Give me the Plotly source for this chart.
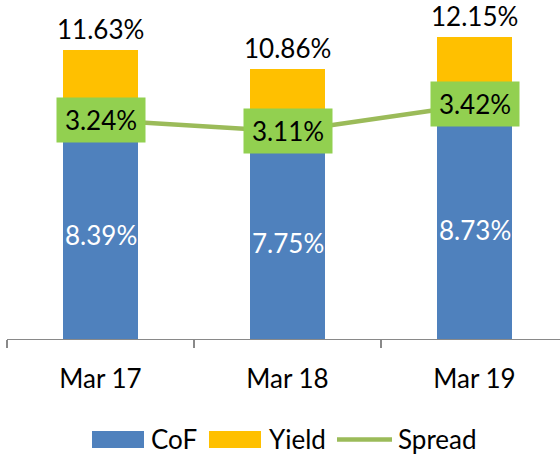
import plotly.graph_objects as go

categories = ["Mar 17", "Mar 18", "Mar 19"]
cof = [8.39, 7.75, 8.73]
yield_total = [11.63, 10.86, 12.15]
spread = [3.24, 3.11, 3.42]

BLUE = "#4F81BD"
ORANGE = "#FFC000"
LINE_GREEN = "#9BBB59"
BOX_GREEN = "#92D050"
FONT = "Lato"
FS = 26

W, H = 560, 454
PL, PR, PT, PB = 7, 560, 0, 339  # plot area in pixels


def px(x):
    return (x - PL) / (PR - PL)


def py(y):
    return (PB - y) / (PB - PT)


yield_part = [round(t - c, 2) for t, c in zip(yield_total, cof)]

fig = go.Figure()
fig.add_trace(go.Bar(
    x=categories, y=cof, name="CoF", marker=dict(color=BLUE, line=dict(width=0)),
    showlegend=False, hoverinfo="skip",
))
fig.add_trace(go.Bar(
    x=categories, y=yield_part, name="Yield", marker=dict(color=ORANGE, line=dict(width=0)),
    showlegend=False, hoverinfo="skip",
))
fig.add_trace(go.Scatter(
    x=categories, y=spread, name="Spread", mode="lines", yaxis="y2",
    line=dict(color=LINE_GREEN, width=4.5), showlegend=False, hoverinfo="skip",
))

annotations = []
for c, v in zip(categories, cof):
    annotations.append(dict(x=c, y=v / 2, xref="x", yref="y", text=f"{v:.2f}%",
                            showarrow=False, yanchor="middle",
                            font=dict(size=FS, family=FONT, color="white")))
for c, t in zip(categories, yield_total):
    annotations.append(dict(x=c, y=t, xref="x", yref="y", text=f"{t:.2f}%",
                            showarrow=False, yanchor="bottom", yshift=3,
                            font=dict(size=FS, family=FONT, color="black")))
for c, s in zip(categories, spread):
    annotations.append(dict(x=c, y=s, xref="x", yref="y2", text=f"{s:.2f}%",
                            showarrow=False, bgcolor=BOX_GREEN, borderpad=0,
                            width=88, height=44,
                            font=dict(size=FS, family=FONT, color="black")))

# legend (custom)
shapes = []
leg_y = 439.5
legend_items = [
    ("CoF", "rect", BLUE, 92, 144, 149),
    ("Yield", "rect", ORANGE, 209, 261, 267),
    ("Spread", "line", LINE_GREEN, 337, 392, 396),
]
for name, kind, col, x0, x1, tx in legend_items:
    if kind == "rect":
        shapes.append(dict(type="rect", xref="paper", yref="paper",
                           x0=px(x0), x1=px(x1), y0=py(leg_y + 8.5), y1=py(leg_y - 8.5),
                           fillcolor=col, line=dict(width=0)))
    else:
        shapes.append(dict(type="line", xref="paper", yref="paper",
                           x0=px(x0), x1=px(x1), y0=py(leg_y), y1=py(leg_y),
                           line=dict(color=col, width=4.5)))
    annotations.append(dict(x=px(tx), y=py(leg_y), xref="paper", yref="paper",
                            text=name, showarrow=False, xanchor="left", yanchor="middle",
                            font=dict(size=FS, family=FONT, color="black")))

y_scale = 24.86  # px per unit on primary
y2_a, y2_b = 402.0, 87.0

fig.update_layout(
    width=W, height=H,
    margin=dict(l=PL, r=W - PR, t=PT, b=H - PB),
    barmode="stack", bargap=0.6,
    plot_bgcolor="white", paper_bgcolor="white",
    font=dict(family=FONT, size=FS, color="black"),
    xaxis=dict(type="category", range=[-0.5, (PR - PL) / 187.0 - 0.5],
               showline=True, linecolor="#898989", linewidth=1.3,
               ticks="outside", ticklen=8, tickcolor="#898989", tickwidth=1.3,
               tickson="boundaries", showgrid=False, zeroline=False,
               ticklabelstandoff=16,
               tickfont=dict(size=FS, family=FONT, color="black")),
    yaxis=dict(visible=False, range=[0, (PB - PT) / y_scale], fixedrange=True),
    yaxis2=dict(visible=False, overlaying="y",
                range=[(y2_a - PB) / y2_b, (y2_a - PT) / y2_b]),
    annotations=annotations,
    shapes=shapes,
)

fig.write_html("out.html",
               config={"displayModeBar": False, "staticPlot": True},
               post_script="document.body.style.margin='0';document.body.style.overflow='hidden';")
